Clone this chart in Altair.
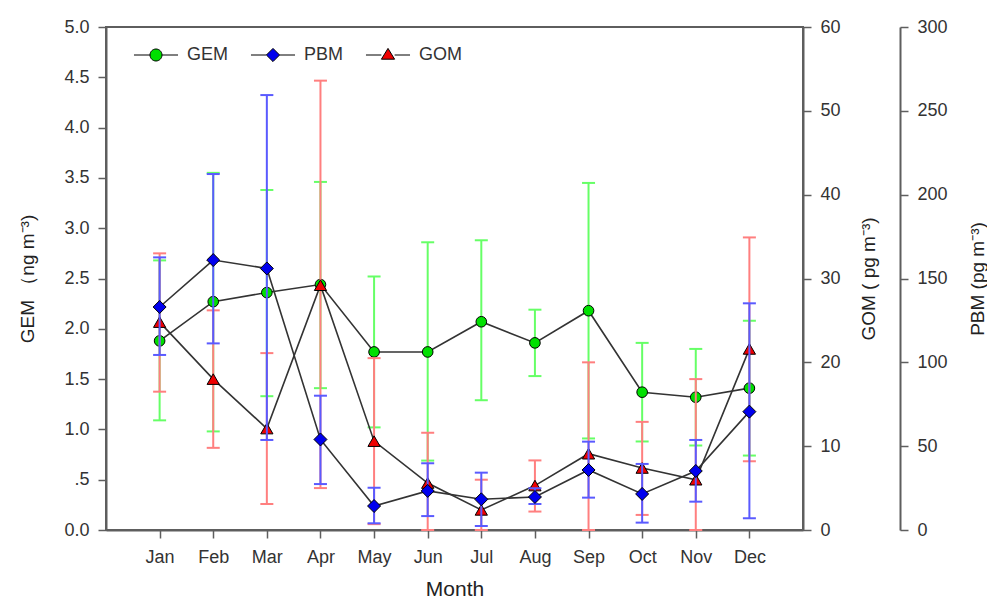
import altair as alt
import pandas as pd

months = ["Jan", "Feb", "Mar", "Apr", "May", "Jun", "Jul", "Aug", "Sep", "Oct", "Nov", "Dec"]

gem_mean = [1.88, 2.27, 2.36, 2.44, 1.77, 1.77, 2.07, 1.86, 2.18, 1.37, 1.32, 1.41]
gem_hi = [2.68, 3.55, 3.38, 3.46, 2.52, 2.86, 2.88, 2.19, 3.45, 1.86, 1.80, 2.08]
gem_lo = [1.09, 0.98, 1.33, 1.41, 1.02, 0.69, 1.29, 1.53, 0.91, 0.88, 0.84, 0.74]

gom_mean = [24.8, 18.0, 12.1, 29.2, 10.6, 5.6, 2.4, 5.3, 9.1, 7.4, 6.0, 21.6]
gom_hi = [33.0, 26.2, 21.1, 53.6, 20.5, 11.6, 6.0, 8.3, 20.0, 12.9, 18.0, 34.9]
gom_lo = [16.5, 9.8, 3.1, 5.0, 0.7, 0.0, 0.0, 2.2, 0.0, 1.8, 0.0, 8.2]

pbm_mean = [133.0, 161.0, 156.0, 54.0, 14.3, 23.3, 18.3, 19.7, 35.8, 21.5, 35.2, 70.6]
pbm_hi = [162.6, 212.3, 259.4, 80.1, 25.2, 39.8, 34.2, 24.9, 52.7, 39.4, 53.7, 135.2]
pbm_lo = [104.4, 111.3, 53.7, 27.4, 4.0, 8.3, 2.4, 15.5, 19.3, 4.4, 16.9, 7.0]

series_names = ["GEM", "PBM", "GOM"]
marker_fill = ["#00e000", "#0000ee", "#ee0000"]
legend_paths = [
    "M -3.67 0 L -1 0 M 1 0 L 3.67 0 M -1 0 A 1 1 0 1 0 1 0 A 1 1 0 1 0 -1 0 Z",
    "M -3.67 0 L -1.1 0 M 1.1 0 L 3.67 0 M 0 -1.1 L 1.1 0 L 0 1.1 L -1.1 0 Z",
    "M -3.67 0 L -1.1 0 M 1.1 0 L 3.67 0 M 0 -1.1 L 1.1 0.7 L -1.1 0.7 Z",
]

df = pd.DataFrame({
    "month": months,
    "gem": gem_mean, "gem_hi": gem_hi, "gem_lo": gem_lo,
    "gom": gom_mean, "gom_hi": gom_hi, "gom_lo": gom_lo,
    "pbm": pbm_mean, "pbm_hi": pbm_hi, "pbm_lo": pbm_lo,
})
legend_df = pd.DataFrame({"series": series_names, "month": ["Jan"] * 3, "v": [-100.0] * 3})

FONT = "Liberation Sans"
AXIS_COLOR = "#5e5e5e"
LINE_COLOR = "#333333"

X = alt.X(
    "month:N", sort=months,
    scale=alt.Scale(type="point", padding=1),
    axis=alt.Axis(title="Month", labelAngle=0, labelPadding=10, titlePadding=12,
                  titleFontSize=21, tickSize=8),
)

gem_axis = alt.Axis(
    orient="left", values=[0, 0.5, 1, 1.5, 2, 2.5, 3, 3.5, 4, 4.5, 5],
    labelExpr="datum.value == 0.5 ? '.5' : format(datum.value, '.1f')",
    title="GEM （ng m⁻³)", titlePadding=26,
)
gom_axis = alt.Axis(
    orient="right", values=[0, 10, 20, 30, 40, 50, 60], format="d",
    title="GOM ( pg m⁻³)", titleAngle=270, titleBaseline="top", titlePadding=19,
)
pbm_axis = alt.Axis(
    orient="right", values=[0, 50, 100, 150, 200, 250, 300], format="d", offset=97,
    title="PBM (pg m⁻³)", titleAngle=270, titleBaseline="top", titlePadding=21,
)

base = alt.Chart(df)


def series_layer(col, err_color, fill, shape, size, axis, domain, extra=None):
    ys = alt.Scale(domain=domain, nice=False, zero=False)
    rule = base.mark_rule(color=err_color, strokeWidth=2).encode(
        x=X, y=alt.Y(f"{col}_lo:Q", scale=ys, axis=axis), y2=f"{col}_hi:Q")
    cap_hi = base.mark_tick(color=err_color, thickness=2, size=13, opacity=1).encode(
        x=X, y=alt.Y(f"{col}_hi:Q", scale=ys, axis=axis))
    cap_lo = base.mark_tick(color=err_color, thickness=2, size=13, opacity=1).encode(
        x=X, y=alt.Y(f"{col}_lo:Q", scale=ys, axis=axis))
    line = base.mark_line(color=LINE_COLOR, strokeWidth=1.6).encode(
        x=X, y=alt.Y(f"{col}:Q", scale=ys, axis=axis))
    pts = base.mark_point(filled=True, color=fill, stroke="black", strokeWidth=1,
                          size=size, shape=shape, opacity=1).encode(
        x=X, y=alt.Y(f"{col}:Q", scale=ys, axis=axis))
    layers = [rule, cap_hi, cap_lo, line, pts]
    if extra is not None:
        layers.append(extra(ys, axis))
    return alt.layer(*layers)


def legend_layer(ys, axis):
    leg = alt.Legend(
        title=None, orient="none", legendX=26, legendY=19, direction="horizontal",
        columns=3, symbolSize=144, symbolOffset=15, labelOffset=22, columnPadding=19,
        labelFontSize=18, labelFont=FONT, labelColor="#333333",
        symbolStrokeColor="black", symbolStrokeWidth=1, padding=0,
    )
    return alt.Chart(legend_df).mark_point(
        filled=True, stroke="black", strokeWidth=1, size=144, opacity=1, clip=True
    ).encode(
        x=X,
        y=alt.Y("v:Q", scale=ys, axis=axis),
        color=alt.Color("series:N", sort=series_names,
                        scale=alt.Scale(domain=series_names, range=marker_fill), legend=leg),
        shape=alt.Shape("series:N", sort=series_names,
                        scale=alt.Scale(domain=series_names, range=legend_paths), legend=leg),
    )


gem_layer = series_layer("gem", "#66ff66", "#00e000", "circle", 113, gem_axis, [0, 5])
gom_layer = series_layer("gom", "#ff7f7f", "#ee0000", "triangle-up", 150, gom_axis, [0, 60])
pbm_layer = series_layer("pbm", "#5a5aff", "#0000ee", "diamond", 169, pbm_axis, [0, 300],
                         extra=legend_layer)

chart = alt.layer(gem_layer, gom_layer, pbm_layer).resolve_scale(
    y="independent"
).properties(
    width=697, height=503,
    autosize=alt.AutoSizeParams(type="none"),
    padding={"left": 98, "top": 19, "right": 184, "bottom": 70},
).configure_view(
    stroke=AXIS_COLOR, strokeWidth=2
).configure_axis(
    grid=False, domainColor=AXIS_COLOR, domainWidth=2, tickColor=AXIS_COLOR, tickWidth=1.5,
    tickSize=8, labelFont=FONT, labelFontSize=18, labelColor="#333333", labelPadding=9,
    titleFont=FONT, titleFontSize=19, titleFontWeight="normal", titleColor="#222222",
).configure_legend(
    labelFont=FONT
)

chart.save("out.html", embed_options={"renderer": "svg", "actions": False})
